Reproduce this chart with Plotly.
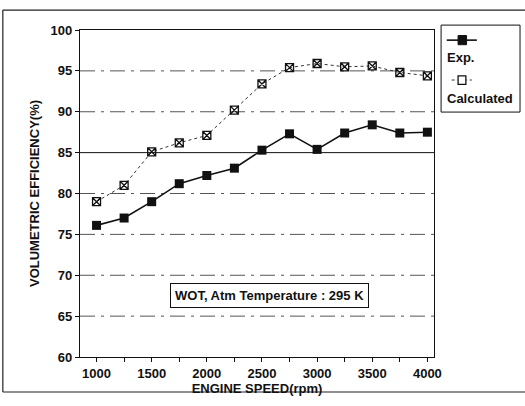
import plotly.graph_objects as go

rpm = [1000, 1250, 1500, 1750, 2000, 2250, 2500, 2750, 3000, 3250, 3500, 3750, 4000]
exp_ve = [76.1, 77.0, 79.0, 81.2, 82.2, 83.1, 85.3, 87.3, 85.4, 87.4, 88.4, 87.4, 87.5]
calc_ve = [79.0, 81.0, 85.1, 86.2, 87.1, 90.2, 93.4, 95.4, 95.9, 95.5, 95.6, 94.8, 94.4]
x_ticks = [1000, 1500, 2000, 2500, 3000, 3500, 4000]
y_ticks = [60, 65, 70, 75, 80, 85, 90, 95, 100]
grid_levels = [65, 70, 75, 80, 85, 90, 95]

FONT = "Liberation Sans, Arial, sans-serif"


def b(s):
    return "<b>" + s + "</b>"


fig = go.Figure()

# grid lines (dashed, scanned look)
for g in grid_levels:
    fig.add_shape(type="line", xref="paper", yref="y", x0=0, x1=1, y0=g, y1=g,
                  line=dict(color="#555555" if g != 85 else "#111111", width=1,
                            dash="solid" if g == 85 else "longdashdot"), layer="below")

fig.add_trace(go.Scatter(x=rpm, y=calc_ve, name="Calculated", mode="lines+markers",
                         line=dict(color="#333333", width=1, dash="dot"),
                         marker=dict(symbol="square-x-open", size=8, color="#111111",
                                     line=dict(width=1.3, color="#111111"))))
fig.add_trace(go.Scatter(x=rpm, y=exp_ve, name="Exp.", mode="lines+markers",
                         line=dict(color="#111111", width=1.6),
                         marker=dict(symbol="square", size=9, color="#111111")))

fig.add_annotation(x=2570, y=67.5, xref="x", yref="y", text=b("WOT, Atm Temperature : 295 K"),
                   showarrow=False, font=dict(family=FONT, size=13, color="#111111"),
                   bordercolor="#111111", borderwidth=1, borderpad=4, bgcolor="white")

# manual legend
fig.add_shape(type="rect", xref="paper", yref="paper", x0=1.02, x1=1.243, y0=0.749, y1=1.015,
              line=dict(color="#111111", width=1))
fig.add_shape(type="line", xref="paper", yref="paper", x0=1.036, x1=1.121, y0=0.969, y1=0.969,
              line=dict(color="#111111", width=1.6))
fig.add_shape(type="rect", xref="paper", yref="paper", x0=1.068, x1=1.092, y0=0.955, y1=0.983,
              line=dict(color="#111111", width=1), fillcolor="#111111")
fig.add_shape(type="line", xref="paper", yref="paper", x0=1.05, x1=1.107, y0=0.847, y1=0.847,
              line=dict(color="#333333", width=1, dash="dot"))
fig.add_shape(type="rect", xref="paper", yref="paper", x0=1.068, x1=1.090, y0=0.834, y1=0.860,
              line=dict(color="#111111", width=1.3), fillcolor="white")
fig.add_annotation(xref="paper", yref="paper", x=1.030, y=0.915, text=b("Exp."), showarrow=False,
                   xanchor="left", yanchor="middle", font=dict(family=FONT, size=13, color="#111111"))
fig.add_annotation(xref="paper", yref="paper", x=1.030, y=0.792, text=b("Calculated"), showarrow=False,
                   xanchor="left", yanchor="middle", font=dict(family=FONT, size=13, color="#111111"))

# outer frame
for (x0, y0, x1, y1) in [(-0.218, 1.061, 1.3, 1.061), (-0.218, -0.107, -0.218, 1.061),
                         (-0.218, -0.107, 1.3, -0.107)]:
    fig.add_shape(type="line", xref="paper", yref="paper", x0=x0, y0=y0, x1=x1, y1=y1,
                  line=dict(color="#222222", width=1.2))

fig.update_layout(
    width=525, height=406,
    margin=dict(l=80, r=91, t=30, b=49),
    paper_bgcolor="white", plot_bgcolor="white",
    showlegend=False,
    font=dict(family=FONT, size=13, color="#111111"),
)
fig.update_xaxes(range=[850, 4060], tickvals=x_ticks, ticktext=[b(str(v)) for v in x_ticks],
                 ticks="outside", ticklen=4,
                 tickcolor="#111111", showgrid=False, zeroline=False,
                 showline=True, linecolor="#111111", linewidth=1.2, mirror=True,
                 minor=dict(ticks="outside", ticklen=4, dtick=250, tick0=1000, tickcolor="#111111"),
                 title=dict(text=b("ENGINE SPEED(rpm)"), standoff=0,
                            font=dict(family=FONT, size=13, color="#111111")),
                 tickfont=dict(family=FONT, size=13, color="#111111"))
fig.update_yaxes(range=[60, 100], tickvals=y_ticks, ticktext=[b(str(v)) for v in y_ticks],
                 ticks="outside", ticklen=4,
                 tickcolor="#111111", showgrid=False, zeroline=False,
                 showline=True, linecolor="#111111", linewidth=1.2, mirror=True,
                 title=dict(text=b("VOLUMETRIC EFFICIENCY(%)"), standoff=8,
                            font=dict(family=FONT, size=13, color="#111111")),
                 tickfont=dict(family=FONT, size=13, color="#111111"))

fig.write_html("out.html")
